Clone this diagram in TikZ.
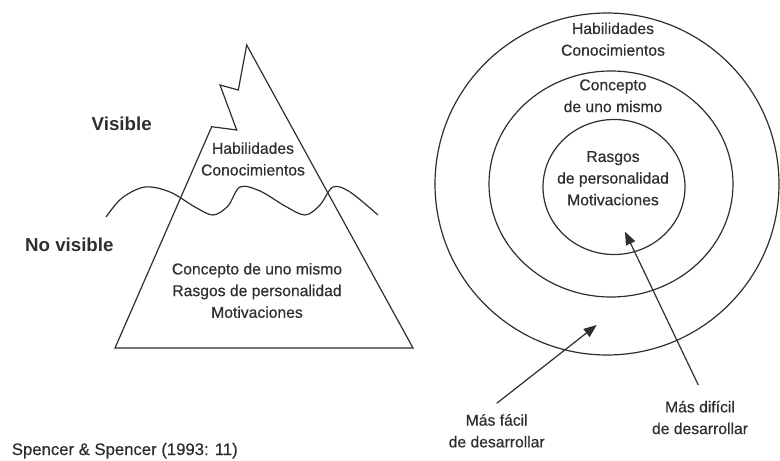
\documentclass[tikz,border=0pt]{standalone}
\usepackage{fontspec}
\setmainfont{Liberation Sans}
\newfontfamily\medfont{Liberation Sans}[FakeBold=0.5]
\usetikzlibrary{arrows.meta}
\definecolor{ink}{HTML}{2E2E2E}
\begin{document}
\begin{tikzpicture}[x=1pt,y=-1pt,
  line/.style={draw=ink,line width=1.2pt,line join=miter},
  txt/.style={text=ink,align=center,inner sep=0pt,font=\medfont\fontsize{15.7}{21.7}\selectfont},
  bold/.style={text=ink,inner sep=0pt,font=\fontsize{18.7}{22}\selectfont\bfseries},
  arr/.style={draw=ink,line width=1.2pt,-{Triangle[length=13pt,width=10pt]}}]
\useasboundingbox (0,0) rectangle (780,461);
% iceberg
\draw[line] (115,348) -- (211.7,126.7) -- (236.7,130) -- (220,85) -- (238.3,90) -- (246.7,45) -- (413,348) -- cycle;
\draw[line] plot[smooth,tension=0.55] coordinates {(106,217) (122,198) (145,187) (170,192) (195,207) (213,215) (228,206) (240,187) (260,191) (285,206) (305,215) (320,205) (333,187) (350,192) (378,215)};
\node[txt] (hab) at (253,159) {Habilidades\\Conocimientos};
\node[txt] (con) at (257,290.5) {Concepto de uno mismo\\Rasgos de personalidad\\Motivaciones};
\node[bold,anchor=west] (vis) at (91.5,124) {Visible};
\node[bold,anchor=west] (nvis) at (25,245) {No visible};
% circles
\draw[line] (607,184) ellipse [x radius=172, y radius=171];
\draw[line] (611,184) ellipse [x radius=122, y radius=113];
\draw[line] (614,187) ellipse [x radius=71, y radius=67.5];
\node[txt] (chab) at (613,39.2) {Habilidades\\Conocimientos};
\node[txt] (ccon) at (613,95.8) {Concepto\\de uno mismo};
\node[txt] (cras) at (613,178.3) {Rasgos\\de personalidad\\Motivaciones};
% arrows
\coordinate (f0) at (496.7,403.3);
\coordinate (f1) at (596.7,325);
\coordinate (d0) at (698.3,385);
\coordinate (d1) at (625,231.7);
\draw[arr] (f0) -- (f1);
\draw[arr] (d0) -- (d1);
\node[txt] (fac) at (496.7,430.8) {Más fácil\\de desarrollar};
\node[txt] (dif) at (700,417.5) {Más difícil\\de desarrollar};
\node[text=ink,inner sep=0pt,anchor=west,font=\medfont\fontsize{16.7}{20}\selectfont] (src) at (11.7,450.7) {Spencer \& Spencer (1993: 11)};
\end{tikzpicture}
\end{document}
